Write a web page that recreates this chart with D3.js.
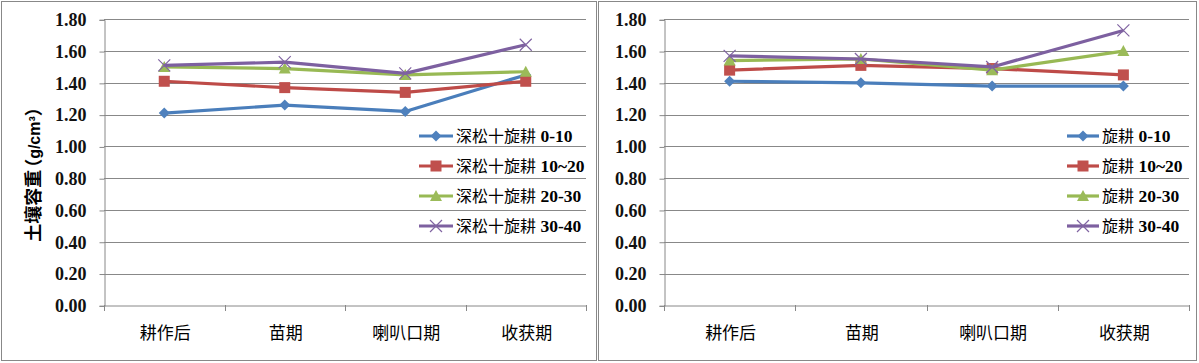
<!DOCTYPE html>
<html><head><meta charset="utf-8">
<script src="https://cdn.jsdelivr.net/npm/d3@7"></script>
<style>body{margin:0;background:#fff}svg{display:block}</style>
</head><body>
<svg id="c" width="1199" height="363"></svg>
<script>
const categories = ["耕作后", "苗期", "喇叭口期", "收获期"];
const yTicks = [0, 0.2, 0.4, 0.6, 0.8, 1.0, 1.2, 1.4, 1.6, 1.8];
const depthLabels = ["0-10", "10~20", "20-30", "30-40"];
const leftPrefix = "深松十旋耕";
const rightPrefix = "旋耕";
const left_0_10  = [1.21, 1.26, 1.22, 1.45];
const left_10_20 = [1.41, 1.37, 1.34, 1.41];
const left_20_30 = [1.50, 1.49, 1.45, 1.47];
const left_30_40 = [1.51, 1.53, 1.46, 1.64];
const right_0_10  = [1.41, 1.40, 1.38, 1.38];
const right_10_20 = [1.48, 1.51, 1.49, 1.45];
const right_20_30 = [1.54, 1.55, 1.48, 1.60];
const right_30_40 = [1.57, 1.55, 1.50, 1.73];
const yTitleMain = "土壤容重";
const yTitleUnit = "g/cm³";

const lineColors = ["#4A7EBB", "#BE4B48", "#98B954", "#7D60A0"];
const markColors = ["#4F81BD", "#C0504D", "#9BBB59", "#8064A2"];
const markerTypes = ["diamond", "square", "triangle", "x"];

const svg = d3.select("#c");
const CJK = "'Noto Sans CJK SC', sans-serif";
const NUM = "'Liberation Serif', 'Times New Roman', serif";

const panels = [
  {box:[1.5, 1.5, 595, 359], x0:104, x1:586, legLine:[419,453], legText:456,
   prefix:leftPrefix, series:[left_0_10,left_10_20,left_20_30,left_30_40], title:true},
  {box:[598.5, 1.5, 598, 359], x0:664, x1:1189, legLine:[1067,1099], legText:1102,
   prefix:rightPrefix, series:[right_0_10,right_10_20,right_20_30,right_30_40], title:false}
];
const yTop = 19.3, yBot = 305.3;
const legRows = [136, 166, 196, 226];

function marker(g, type, x, y, i) {
  if (type === "diamond") {
    g.append("path").attr("d", `M${x},${y-5.5}L${x+5.5},${y}L${x},${y+5.5}L${x-5.5},${y}Z`).attr("fill", markColors[i]);
  } else if (type === "square") {
    g.append("rect").attr("x", x-5.5).attr("y", y-5.5).attr("width", 11).attr("height", 11).attr("fill", markColors[i]);
  } else if (type === "triangle") {
    g.append("path").attr("d", `M${x},${y-6}L${x+6},${y+5}L${x-6},${y+5}Z`).attr("fill", markColors[i]);
  } else {
    g.append("path").attr("d", `M${x-6},${y-6}L${x+6},${y+6}M${x-6},${y+6}L${x+6},${y-6}`).attr("stroke", markColors[i]).attr("stroke-width", 1.2).attr("fill", "none");
  }
}

panels.forEach(p => {
  const g = svg.append("g");
  g.append("rect").attr("x", p.box[0]).attr("y", p.box[1]).attr("width", p.box[2]).attr("height", p.box[3])
    .attr("fill", "#fff").attr("stroke", "#888").attr("stroke-width", 1);

  const x = d3.scalePoint().domain(categories).range([p.x0, p.x1]).padding(0.5);
  const xb = d3.scaleBand().domain(categories).range([p.x0, p.x1]);
  const y = d3.scaleLinear().domain([0, 1.8]).range([yBot, yTop]);

  g.append("g").selectAll("line").data(yTicks.filter(t => t > 0)).join("line")
    .attr("x1", p.x0).attr("x2", p.x1).attr("y1", d => Math.round(y(d)) + 0.5).attr("y2", d => Math.round(y(d)) + 0.5)
    .attr("stroke", "#888").attr("stroke-width", 1);

  const ya = g.append("g").attr("transform", `translate(${p.x0 + 0.5},0.5)`)
    .call(d3.axisLeft(y).tickValues(yTicks).tickFormat(d3.format(".2f")).tickSize(5).tickPadding(13));
  ya.selectAll("path,line").attr("stroke", "#888");
  ya.selectAll("text").attr("font-family", NUM).attr("font-weight", "bold").attr("font-size", 18).attr("fill", "#111");

  const xa = g.append("g").attr("transform", `translate(0.5,${Math.round(yBot) + 0.5})`)
    .call(d3.axisBottom(x).tickSize(0).tickPadding(21));
  xa.select("path").attr("stroke", "#888");
  xa.selectAll("text").attr("font-family", CJK).attr("font-size", 17).attr("fill", "#000");
  const bounds = categories.map(c => xb(c)).concat([p.x1]);
  g.append("g").selectAll("line").data(bounds).join("line")
    .attr("x1", d => Math.round(d) + 0.5).attr("x2", d => Math.round(d) + 0.5)
    .attr("y1", Math.round(yBot)).attr("y2", Math.round(yBot) + 6).attr("stroke", "#888");

  const line = d3.line().x((d, j) => x(categories[j])).y(d => y(d));
  p.series.forEach((s, i) => {
    g.append("path").datum(s).attr("d", line).attr("fill", "none")
      .attr("stroke", lineColors[i]).attr("stroke-width", 3.2).attr("stroke-linejoin", "round");
    s.forEach((v, j) => marker(g, markerTypes[i], x(categories[j]), y(v), i));
  });

  depthLabels.forEach((lab, i) => {
    const ly = legRows[i];
    g.append("line").attr("x1", p.legLine[0]).attr("x2", p.legLine[1]).attr("y1", ly).attr("y2", ly)
      .attr("stroke", lineColors[i]).attr("stroke-width", 3.2);
    marker(g, markerTypes[i], (p.legLine[0] + p.legLine[1]) / 2, ly, i);
    const t = g.append("text").attr("x", p.legText).attr("y", ly + 6).attr("fill", "#000");
    t.append("tspan").attr("font-family", CJK).attr("font-size", 16).text(p.prefix);
    t.append("tspan").attr("font-family", NUM).attr("font-weight", "bold").attr("font-size", 17.5).text(" " + lab);
  });

  if (p.title) {
    const t = g.append("text").attr("transform", `translate(40,170) rotate(-90)`).attr("text-anchor", "middle")
      .attr("font-weight", "bold").attr("font-size", 18).attr("fill", "#000");
    t.append("tspan").attr("font-family", CJK).text(yTitleMain);
    t.append("tspan").attr("font-family", CJK).attr("dx", -7).text("（");
    t.append("tspan").attr("font-family", "'Liberation Sans', sans-serif").attr("font-size", 16).attr("dx", 0).text(yTitleUnit);
    t.append("tspan").attr("font-family", CJK).attr("dx", 0).text("）");
  }
});
</script>
</body></html>
